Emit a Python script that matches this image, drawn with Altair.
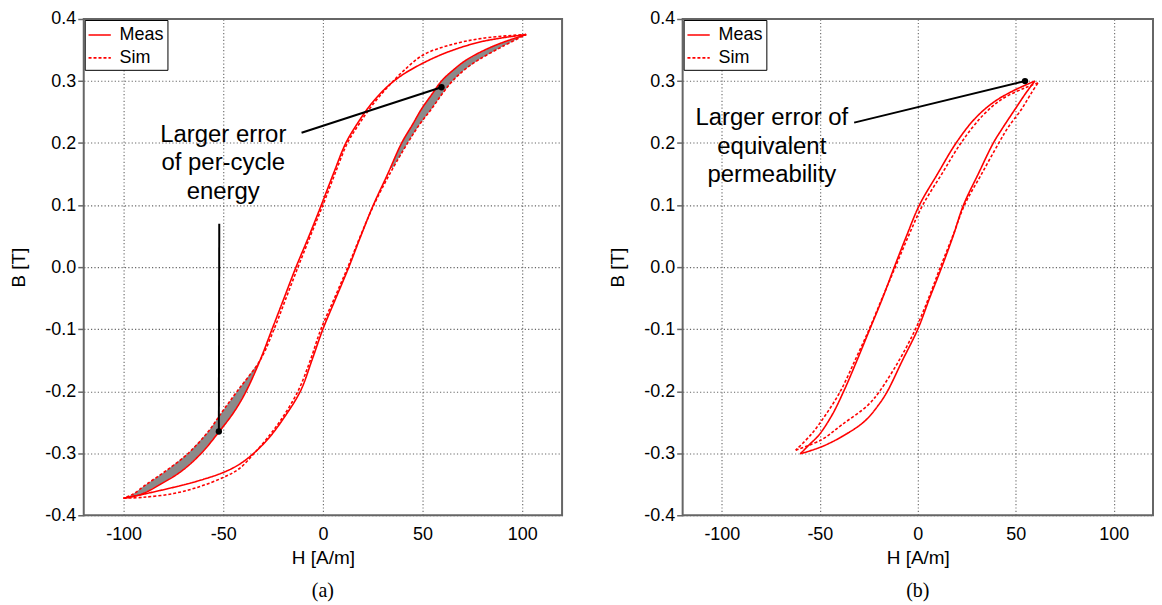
import altair as alt
import pandas as pd

# ---------------- Panel (a) ----------------
a_meas_asc_H = [-100, -90, -75, -62, -50, -42, -34.7, -27, -20, -11.3, -5.5, 0, 6.5, 13, 19, 25.3, 32.5, 39.5, 45, 49.5, 55, 59.5, 65.5, 72, 85.3, 102]
a_meas_asc_B = [-0.3725, -0.366, -0.355, -0.344, -0.331, -0.318, -0.300, -0.275, -0.245, -0.200, -0.150, -0.100, -0.050, 0.000, 0.050, 0.100, 0.150, 0.200, 0.230, 0.255, 0.280, 0.300, 0.318, 0.334, 0.356, 0.375]
a_meas_desc_H = [102, 80.3, 63.7, 50.3, 39, 31, 23.5, 17, 11.5, 5.2, -0.8, -7, -13.5, -19.5, -25.5, -31.5, -38.5, -44.5, -52, -61, -71, -81.5, -91, -100]
a_meas_desc_B = [0.375, 0.364, 0.348, 0.329, 0.308, 0.287, 0.260, 0.230, 0.200, 0.150, 0.100, 0.050, 0.000, -0.050, -0.100, -0.150, -0.200, -0.233, -0.265, -0.300, -0.329, -0.350, -0.366, -0.3725]

a_sim_asc_H = [-100, -90, -75, -62, -50, -42, -35, -28, -21, -12.5, -6.3, -1, 5.8, 12.5, 18.8, 25.5, 33.5, 42.5, 48.5, 54.5, 60, 65, 71, 78, 90.3, 102]
a_sim_asc_B = [-0.3725, -0.371, -0.365, -0.354, -0.339, -0.325, -0.302, -0.276, -0.246, -0.200, -0.150, -0.100, -0.050, 0.000, 0.050, 0.100, 0.150, 0.200, 0.230, 0.255, 0.280, 0.300, 0.318, 0.334, 0.356, 0.375]
a_sim_desc_H = [102, 80.3, 63.7, 50.3, 40.3, 33, 25, 18, 12.3, 6, 0, -6.3, -12.5, -18.5, -24.5, -31.5, -43, -50.5, -57.5, -67.5, -79, -88.5, -95.3, -100]
a_sim_desc_B = [0.375, 0.369, 0.358, 0.342, 0.316, 0.292, 0.262, 0.230, 0.200, 0.150, 0.100, 0.050, 0.000, -0.050, -0.100, -0.150, -0.200, -0.233, -0.265, -0.300, -0.329, -0.350, -0.366, -0.3725]

# grey error bands (a): B level, measured H, simulated H
a_band1_B = [0.160, 0.200, 0.230, 0.255, 0.280, 0.300, 0.318, 0.334, 0.356, 0.375]
a_band1_Hm = [34.0, 39.5, 45, 49.5, 55, 59.5, 65.5, 72, 85.3, 102]
a_band1_Hs = [35.0, 42.5, 48.5, 54.5, 60, 65, 71, 78, 90.3, 102]
a_band2_B = [-0.3725, -0.366, -0.350, -0.329, -0.300, -0.265, -0.233, -0.200, -0.170, -0.150]
a_band2_Hm = [-100, -91, -81.5, -71, -61, -52, -44.5, -38.5, -34.3, -31.5]
a_band2_Hs = [-100, -95.3, -88.5, -79, -67.5, -57.5, -50.5, -43, -36, -31.5]

a_text = ["Larger error", "of per-cycle", "energy"]
a_text_H = [-50, -50, -50]
a_text_B = [0.2024, 0.1558, 0.1105]
a_ptr_H1 = [-10.7, -52]
a_ptr_B1 = [0.2167, 0.070]
a_ptr_H2 = [59.5, -52.2]
a_ptr_B2 = [0.290, -0.265]

# ---------------- Panel (b) ----------------
b_meas_asc_H = [-60, -48.7, -37, -27, -20, -15.5, -7.8, 0, 6, 12.2, 18, 23.3, 30.8, 38.5, 43, 49.7, 55, 59.7]
b_meas_asc_B = [-0.301, -0.289, -0.270, -0.248, -0.222, -0.200, -0.150, -0.100, -0.050, 0.000, 0.050, 0.100, 0.150, 0.200, 0.223, 0.255, 0.280, 0.300]
b_meas_desc_H = [59.7, 48.5, 38.5, 29, 19.5, 10, 0.8, -5.8, -12, -18, -24.5, -31, -37.8, -43.7, -50.3, -55.3, -60]
b_meas_desc_B = [0.300, 0.284, 0.2655, 0.239, 0.200, 0.150, 0.100, 0.050, 0.000, -0.050, -0.100, -0.150, -0.200, -0.238, -0.270, -0.286, -0.301]

b_sim_asc_H = [-62.3, -49, -38.7, -25.3, -19.5, -9.5, -1.2, 5.5, 11.5, 17.8, 23.8, 32.5, 41.3, 46, 53, 58, 61.3]
b_sim_asc_B = [-0.295, -0.278, -0.254, -0.222, -0.200, -0.150, -0.100, -0.050, 0.000, 0.050, 0.100, 0.150, 0.200, 0.225, 0.255, 0.281, 0.297]
b_sim_desc_H = [61.3, 54.7, 43, 33, 22, 12.2, 2.5, -4.8, -11.5, -18.2, -24.8, -32, -39.5, -47, -54.5, -62.3]
b_sim_desc_B = [0.297, 0.289, 0.271, 0.244, 0.200, 0.150, 0.100, 0.050, 0.000, -0.050, -0.100, -0.150, -0.200, -0.238, -0.270, -0.295]

b_text = ["Larger error of", "equivalent", "permeability"]
b_text_H = [-74.5, -74.5, -74.5]
b_text_B = [0.229, 0.183, 0.138]
b_ptr_H1 = [-32.5]
b_ptr_B1 = [0.233]
b_ptr_H2 = [54.7]
b_ptr_B2 = [0.300]

SERIES = ["Meas", "Sim"]
FONT = "Liberation Sans"


def branch_rows(Hs, Bs, name, branch):
    return [{"H": h, "B": b, "series": name, "grp": name + "-" + branch, "idx": i}
            for i, (h, b) in enumerate(zip(Hs, Bs))]


def band_rows(Bs, Hm, Hs):
    return [{"B": b, "Hm": m, "Hs": s} for b, m, s in zip(Bs, Hm, Hs)]


xs = alt.Scale(domain=[-120, 120], nice=False, zero=False)
ys = alt.Scale(domain=[-0.4, 0.4], nice=False, zero=False)

x_axis = alt.Axis(
    values=[-100, -50, 0, 50, 100], title="H [A/m]", grid=True, ticks=False, domain=False,
    labelExpr="datum.value < 0 ? '-' + format(-datum.value, 'd') : format(datum.value, 'd')",
    labelPadding=10, titlePadding=5,
)
y_axis = alt.Axis(
    values=[-0.4, -0.3, -0.2, -0.1, 0.0, 0.1, 0.2, 0.3, 0.4], title="B [T]", grid=True,
    ticks=True, tickSize=6, domain=False,
    labelExpr="datum.value < 0 ? '-' + format(-datum.value, '.1f') : format(datum.value, '.1f')",
    labelPadding=2, titlePadding=16,
)


def band_layer(df):
    return alt.Chart(df).mark_area(orient="horizontal", color="#8a8a8a", opacity=1).encode(
        y=alt.Y("B:Q", scale=ys, axis=y_axis),
        x=alt.X("Hm:Q", scale=xs, axis=x_axis, stack=None),
        x2="Hs:Q",
    )


def panel(loops, bands, ptr, txt, caption, width):
    layers = [band_layer(b) for b in bands]
    layers.append(
        alt.Chart(loops).mark_line(strokeWidth=1.6, interpolate="catmull-rom").encode(
            x=alt.X("H:Q", scale=xs, axis=x_axis),
            y=alt.Y("B:Q", scale=ys, axis=y_axis),
            color=alt.Color("series:N", scale=alt.Scale(domain=SERIES, range=["#ff0000", "#ff0000"]),
                            legend=alt.Legend(title=None)),
            strokeDash=alt.StrokeDash("series:N", scale=alt.Scale(domain=SERIES, range=[[1, 0], [3, 2]]),
                                      legend=alt.Legend(title=None)),
            detail="grp:N",
            order="idx:Q",
        )
    )
    layers.append(
        alt.Chart(ptr).mark_rule(color="black", strokeWidth=2).encode(
            x=alt.X("H1:Q", scale=xs, axis=x_axis), y=alt.Y("B1:Q", scale=ys, axis=y_axis),
            x2="H2:Q", y2="B2:Q",
        )
    )
    layers.append(
        alt.Chart(ptr).mark_circle(color="black", size=40, opacity=1).encode(
            x=alt.X("H2:Q", scale=xs, axis=x_axis), y=alt.Y("B2:Q", scale=ys, axis=y_axis),
        )
    )
    layers.append(
        alt.Chart(txt).mark_text(font=FONT, fontSize=24, align="center", baseline="alphabetic", color="black").encode(
            x=alt.X("H:Q", scale=xs, axis=x_axis), y=alt.Y("B:Q", scale=ys, axis=y_axis), text="t:N",
        )
    )
    return alt.layer(*layers).properties(
        width=width, height=498,
        title=alt.TitleParams(caption, orient="bottom", font="Liberation Serif", fontSize=20,
                              fontWeight="normal", color="black", anchor="middle", offset=14),
    )


a_loops = pd.DataFrame(
    branch_rows(a_meas_asc_H, a_meas_asc_B, "Meas", "asc")
    + branch_rows(a_meas_desc_H, a_meas_desc_B, "Meas", "desc")
    + branch_rows(a_sim_asc_H, a_sim_asc_B, "Sim", "asc")
    + branch_rows(a_sim_desc_H, a_sim_desc_B, "Sim", "desc")
)
a_band_up = pd.DataFrame(band_rows(a_band1_B, a_band1_Hm, a_band1_Hs))
a_band_low = pd.DataFrame(band_rows(a_band2_B, a_band2_Hm, a_band2_Hs))
a_ptr = pd.DataFrame({"H1": a_ptr_H1, "B1": a_ptr_B1, "H2": a_ptr_H2, "B2": a_ptr_B2})
a_txt = pd.DataFrame({"H": a_text_H, "B": a_text_B, "t": a_text})

b_loops = pd.DataFrame(
    branch_rows(b_meas_asc_H, b_meas_asc_B, "Meas", "asc")
    + branch_rows(b_meas_desc_H, b_meas_desc_B, "Meas", "desc")
    + branch_rows(b_sim_asc_H, b_sim_asc_B, "Sim", "asc")
    + branch_rows(b_sim_desc_H, b_sim_desc_B, "Sim", "desc")
)
b_ptr = pd.DataFrame({"H1": b_ptr_H1, "B1": b_ptr_B1, "H2": b_ptr_H2, "B2": b_ptr_B2})
b_txt = pd.DataFrame({"H": b_text_H, "B": b_text_B, "t": b_text})

pa = panel(a_loops, [a_band_up, a_band_low], a_ptr, a_txt, "(a)", 480)
pb = panel(b_loops, [], b_ptr, b_txt, "(b)", 472)

chart = (
    alt.hconcat(pa, pb, spacing=44)
    .resolve_scale(color="independent", strokeDash="independent")
    .resolve_legend(color="independent", strokeDash="independent")
    .properties(padding={"left": 0, "top": 0, "right": 0, "bottom": 0})
    .configure_view(stroke="#666666", strokeWidth=2)
    .configure_axis(
        labelFont=FONT, titleFont=FONT, labelFontSize=18, titleFontSize=19,
        titleFontWeight="normal", labelColor="black", titleColor="black",
        gridColor="#666666", gridDash=[1.2, 2.2], gridWidth=1.1,
        tickColor="#666666", tickWidth=1.5,
    )
    .configure_legend(
        orient="top-left", offset=1, strokeColor="black", fillColor="white", padding=3,
        labelFont=FONT, labelFontSize=18, labelColor="black", symbolType="stroke",
        symbolStrokeWidth=1.6, symbolSize=500, rowPadding=2, labelOffset=8, cornerRadius=0,
    )
)

chart.save("out.html", embed_options={"renderer": "svg", "actions": False})
